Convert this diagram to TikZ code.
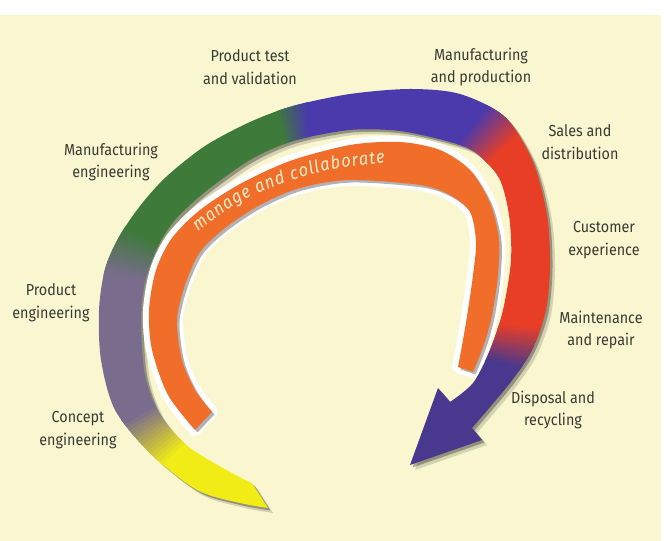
\documentclass[tikz,border=0pt]{standalone}
\usepackage{fontspec}
\setmainfont{Fira Sans}[FakeStretch=0.9]
\usetikzlibrary{decorations.text}

\definecolor{paper}{RGB}{250,247,208}
\definecolor{bandyellow}{RGB}{242,236,22}
\definecolor{bandgrey}{RGB}{122,108,140}
\definecolor{bandgreen}{RGB}{62,122,58}
\definecolor{bandblue}{RGB}{74,58,172}
\definecolor{bandred}{RGB}{232,62,38}
\definecolor{bandpurple}{RGB}{72,56,142}
\definecolor{bandorange}{RGB}{240,110,42}
\definecolor{labelgrey}{RGB}{58,58,52}
\definecolor{mottocream}{RGB}{253,240,205}

% outline of the big ring, tail to arrow head and back
\newcommand{\outerbandpath}{plot[smooth] coordinates {(268,33) (240,38) (197,51) (150,88) (115,131) (101,181) (99,231) (105,272) (119,304) (140,335) (166,364) (205,395) (250,419) (293,435) (350,447) (410,452) (460,447) (505,424) (533,379) (547,326) (550,276) (546,231) (532,191) (510,158) (472,113)}
  -- (482,101) -- (410,76) -- (438,153)
  -- plot[smooth] coordinates {(450,139) (473,158) (490,191) (503,231) (511,281) (509,326) (499,363) (475,389) (450,399) (400,410) (350,411) (293,400) (250,381) (205,349) (175,321) (157,293) (145,259) (141,221) (145,166) (160,126) (190,93) (243,62)}
  -- (252,58) -- cycle}
% outline of the inner orange ring
\newcommand{\orangebandpath}{plot[smooth] coordinates {(195,111) (168,146) (152,191) (149,231) (156,271) (172,303) (200,331) (240,357) (290,380) (350,396) (400,399) (440,391) (470,371) (490,338) (499,302) (498,266) (493,231) (487,206) (480,186) (473,169)}
  -- plot[smooth] coordinates {(458,174) (463,201) (468,231) (473,266) (476,299) (470,329) (450,346) (420,356) (350,361) (300,353) (260,336) (225,313) (200,289) (185,256) (177,221) (182,181) (195,151) (212,129)}
  -- cycle}
% colour blend between two angles
\newcommand{\ringblend}[4]{%
  \foreach \k in {0,...,15}{%
    \pgfmathsetmacro\angA{#1+(#2-#1)*\k/16}
    \pgfmathsetmacro\angB{#1+(#2-#1)*(\k+1.3)/16}
    \pgfmathtruncatemacro\pc{100-100*\k/15}
    \fill[#3!\pc!#4] (0,0) -- (\angA:320) arc[start angle=\angA, end angle=\angB, radius=320] -- cycle;
  }}

\begin{document}
\begin{tikzpicture}[x=1bp,y=1bp,
  stage/.style={font=\fontsize{16}{23}\selectfont, text=labelgrey, align=center, inner sep=0pt}]
\useasboundingbox (0,0) rectangle (669,541);
\fill[white] (0,0) rectangle (669,541);
\fill[paper] (0,0) rectangle (661,526);

% shadows and halo
\fill[black, opacity=0.15, shift={(5,-5)}] \outerbandpath;
\fill[black, opacity=0.3, shift={(2.5,-2.5)}] \outerbandpath;
\draw[white, line width=12, line join=round] \orangebandpath;
\fill[black, opacity=0.3, shift={(2.5,-2.5)}] \orangebandpath;

% orange ring with its motto
\fill[bandorange] \orangebandpath;
\path[decorate, decoration={text along path,
  text={|\itshape\fontsize{18}{18}\selectfont|manage and collaborate},
  text color=mottocream, text align={fit to path}}]
  plot[smooth] coordinates {(198,309) (235,336) (275,355) (330,371) (385,378)};

% big ring
\begin{scope}
  \clip \outerbandpath;
  \begin{scope}[shift={(323,227)}]
    \fill[bandyellow] (0,0) -- (262:320) arc[start angle=262, end angle=216, radius=320] -- cycle;
    \fill[bandgrey] (0,0) -- (216:320) arc[start angle=216, end angle=163, radius=320] -- cycle;
    \fill[bandgreen] (0,0) -- (163:320) arc[start angle=163, end angle=98, radius=320] -- cycle;
    \fill[bandblue] (0,0) -- (98:320) arc[start angle=98, end angle=47, radius=320] -- cycle;
    \fill[bandred] (0,0) -- (47:320) arc[start angle=47, end angle=-9, radius=320] -- cycle;
    \fill[bandpurple] (0,0) -- (-9:320) arc[start angle=-9, end angle=-85, radius=320] -- cycle;
    \ringblend{224}{208}{bandyellow}{bandgrey}
    \ringblend{170}{156}{bandgrey}{bandgreen}
    \ringblend{103}{94}{bandgreen}{bandblue}
    \ringblend{52}{42}{bandblue}{bandred}
    \ringblend{-3}{-16}{bandred}{bandpurple}
  \end{scope}
\end{scope}

% stage labels
\node[stage] (ptest) at (250,474) {Product test\\and validation};
\node[stage] (mprod) at (481,474) {Manufacturing\\and production};
\node[stage] (meng) at (111,379) {Manufacturing\\engineering};
\node[stage] (sales) at (580,399) {Sales and\\distribution};
\node[stage] (cust) at (604,301) {Customer\\experience};
\node[stage] (maint) at (601,211) {Maintenance\\and repair};
\node[stage] (disp) at (553,131) {Disposal and\\recycling};
\node[stage] (peng) at (51,238) {Product\\engineering};
\node[stage] (ceng) at (78,111) {Concept\\engineering};
\end{tikzpicture}
\end{document}
